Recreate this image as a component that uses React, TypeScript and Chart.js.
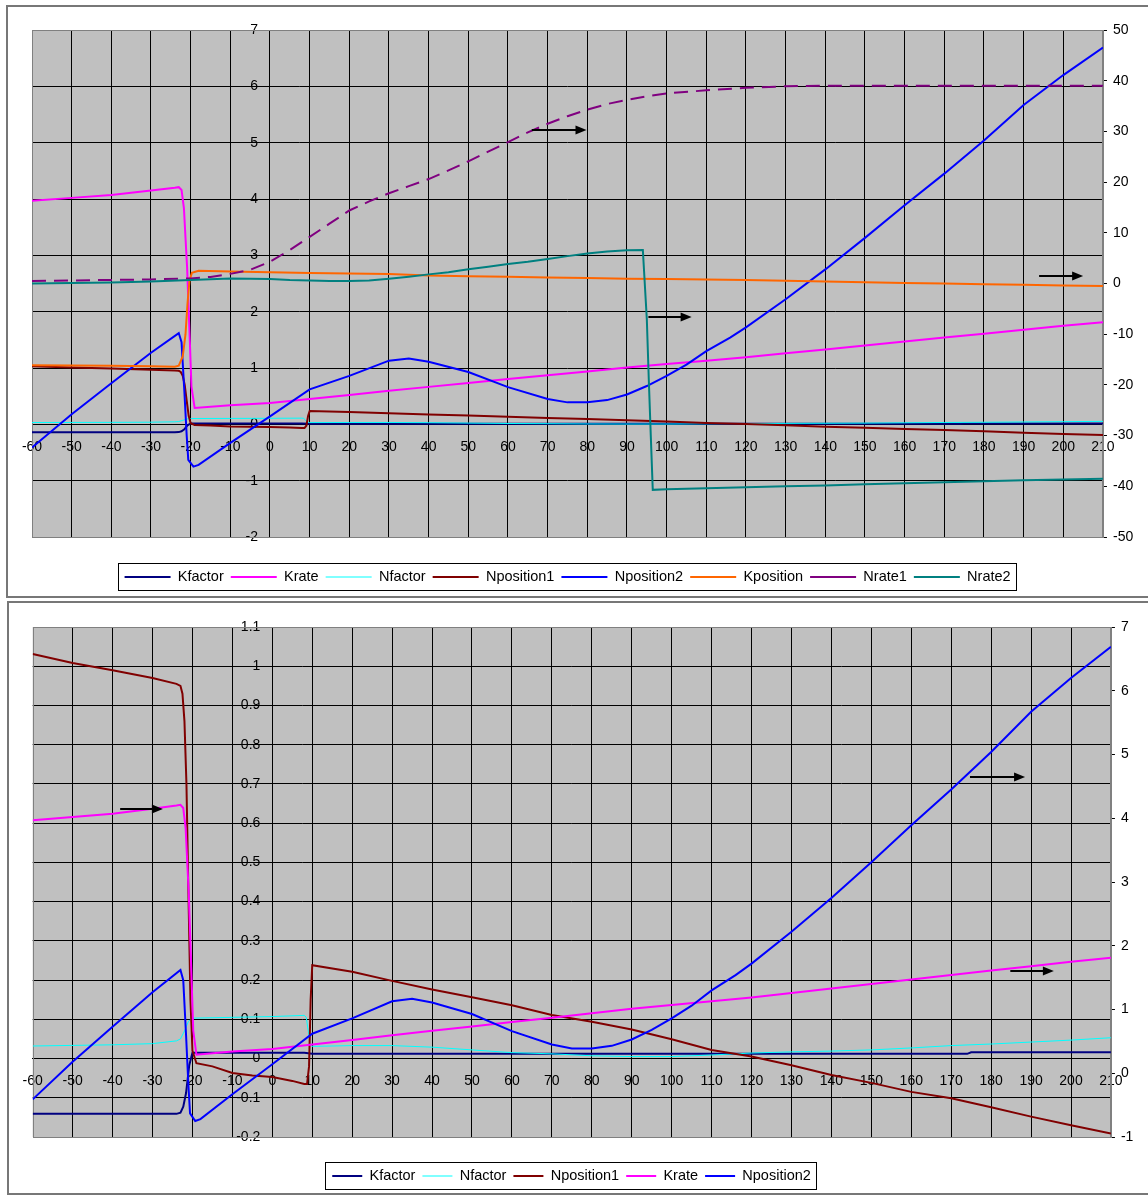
import React, { useEffect, useRef } from 'react';
import { Chart, registerables, LinearScale } from 'chart.js';

Chart.register(...registerables);
Chart.defaults.font.family = '"Liberation Sans", Arial, sans-serif';

// ---------------- data ----------------
const xTicksMin = -60;
const xTicksMax = 210;

const kfactorX = [-60, -24, -23, -22.3, -21.6, -20.8, -20, -10, 0, 8, 10, 60, 110, 174, 175, 210];
const kfactorY = [-0.141, -0.141, -0.138, -0.123, -0.088, -0.017, 0.015, 0.015, 0.015, 0.015, 0.012, 0.012, 0.012, 0.012, 0.016, 0.016];

const nfactorX = [-60, -40, -30, -24, -23, -22, -21, -20, -10, 0, 8, 8.5, 9, 9.5, 10, 20, 30, 40, 50, 60, 70, 80, 90, 100, 110, 120, 130, 140, 150, 160, 170, 180, 190, 200, 210];
const nfactorY = [0.032, 0.035, 0.038, 0.045, 0.05, 0.07, 0.095, 0.103, 0.105, 0.107, 0.11, 0.105, 0.07, 0.035, 0.031, 0.033, 0.033, 0.029, 0.022, 0.015, 0.012, 0.007, 0.005, 0.005, 0.009, 0.014, 0.017, 0.019, 0.022, 0.027, 0.033, 0.037, 0.042, 0.047, 0.053];

const nposition1X = [-60, -50, -40, -30, -24, -23, -22.5, -22, -21.5, -21, -20.5, -20, -19, -15, -10, -5, 0, 5, 8, 8.7, 9.2, 9.6, 10, 20, 30, 40, 50, 60, 70, 80, 90, 100, 110, 120, 130, 140, 150, 160, 170, 180, 190, 200, 210];
const nposition1Y = [1.031, 1.008, 0.99, 0.97, 0.955, 0.95, 0.93, 0.86, 0.7, 0.42, 0.15, 0.02, -0.012, -0.02, -0.037, -0.043, -0.047, -0.057, -0.065, -0.065, -0.02, 0.15, 0.238, 0.221, 0.198, 0.176, 0.156, 0.136, 0.111, 0.094, 0.074, 0.049, 0.022, 0.005, -0.017, -0.042, -0.062, -0.085, -0.101, -0.124, -0.148, -0.17, -0.191];

const krateX = [-60, -50, -40, -30, -24, -23, -22.3, -21.7, -21.3, -20.9, -20.2, -19.8, -19, -10, 0, 10, 20, 30, 40, 50, 60, 70, 80, 90, 100, 110, 120, 130, 140, 150, 160, 170, 180, 190, 200, 210];
const krateY = [3.97, 4.02, 4.07, 4.15, 4.2, 4.21, 4.16, 3.84, 3.31, 2.79, 1.46, 0.67, 0.29, 0.34, 0.38, 0.45, 0.52, 0.595, 0.665, 0.735, 0.805, 0.87, 0.94, 1.01, 1.07, 1.13, 1.19, 1.26, 1.33, 1.4, 1.47, 1.54, 1.61, 1.68, 1.75, 1.81];

const nposition2X = [-60, -50, -40, -30, -23, -22.3, -21.6, -21, -20.6, -19.3, -18, -10, 0, 10, 20, 30, 35, 40, 50, 60, 70, 75, 80, 85, 90, 95, 100, 105, 110, 116, 120, 130, 140, 150, 160, 170, 180, 190, 200, 210];
const nposition2Y = [-0.41, 0.18, 0.73, 1.27, 1.62, 1.46, 0.6, -0.2, -0.63, -0.75, -0.72, -0.33, 0.14, 0.62, 0.86, 1.13, 1.17, 1.11, 0.93, 0.66, 0.45, 0.39, 0.39, 0.43, 0.53, 0.68, 0.86, 1.06, 1.3, 1.54, 1.72, 2.22, 2.75, 3.31, 3.89, 4.45, 5.04, 5.67, 6.2, 6.69];

const kpositionX = [-60, -40, -30, -24, -23, -22, -21.3, -20.8, -20.3, -19.7, -18, -10, 0, 10, 20, 30, 40, 50, 60, 70, 80, 90, 100, 110, 120, 130, 140, 150, 160, 170, 180, 190, 200, 210];
const kpositionY = [-16.1, -16.2, -16.3, -16.4, -16.2, -14.4, -10, -4, 0.5, 2.1, 2.5, 2.35, 2.2, 2.05, 1.95, 1.85, 1.6, 1.45, 1.35, 1.2, 1.1, 0.95, 0.88, 0.8, 0.7, 0.55, 0.4, 0.23, 0.12, 0.0, -0.15, -0.27, -0.4, -0.5];

const nrate1X = [-60, -50, -40, -30, -20, -15, -10, -5, 0, 5, 10, 15, 20, 25, 30, 35, 40, 45, 50, 55, 60, 65, 70, 75, 80, 85, 90, 95, 100, 110, 120, 130, 140, 150, 160, 170, 180, 190, 200, 210];
const nrate1Y = [0.5, 0.6, 0.7, 0.8, 1.0, 1.3, 1.9, 2.7, 4.3, 6.6, 9.2, 11.8, 14.4, 16.2, 17.8, 19.2, 20.6, 22.3, 24.1, 26.0, 27.9, 29.8, 31.5, 33.0, 34.3, 35.4, 36.2, 36.9, 37.5, 38.1, 38.6, 38.9, 39.0, 39.0, 39.0, 39.0, 39.0, 39.0, 39.0, 39.0];

const nrate2X = [-60, -50, -40, -30, -20, -10, 0, 5, 10, 15, 20, 25, 30, 35, 40, 45, 50, 55, 60, 65, 70, 75, 80, 85, 90, 94, 95, 95.5, 96, 96.5, 100, 110, 120, 130, 140, 150, 160, 170, 180, 190, 200, 210];
const nrate2Y = [0.0, 0.1, 0.2, 0.4, 0.7, 1.0, 0.9, 0.7, 0.6, 0.5, 0.5, 0.6, 0.95, 1.35, 1.8, 2.2, 2.8, 3.3, 3.85, 4.3, 4.85, 5.4, 5.9, 6.3, 6.55, 6.6, -7, -19, -30, -40.7, -40.6, -40.4, -40.2, -40.0, -39.85, -39.6, -39.4, -39.2, -39.0, -38.8, -38.65, -38.5];

// annotation arrows (x start, x end, y on left axis)
const topArrowX1 = [66.0, 95.4, 193.9];
const topArrowX2 = [79.8, 106.3, 205.0];
const topArrowY = [5.22, 1.91, 2.64];
const bottomArrowX1 = [-38.1, 174.7, 184.8];
const bottomArrowX2 = [-27.4, 188.5, 195.7];
const bottomArrowY = [0.635, 0.718, 0.224];

// ---------------- helpers ----------------
const LABEL_GAP = 12;

class CrossingLinearScale extends LinearScale {
  static id = 'crossingLinear';
  _computeLabelItems(chartArea: any) {
    // @ts-ignore
    const items = super._computeLabelItems(chartArea);
    for (const it of items) {
      const t = it.options && it.options.translation;
      if (Array.isArray(t)) t[0] -= LABEL_GAP;
    }
    return items;
  }
}
Chart.register(CrossingLinearScale);

const pts = (xs: number[], ys: number[]) => xs.map((x, i) => ({ x, y: ys[i] }));

const ds = (label: string, xs: number[], ys: number[], color: string, width: number, axis: string, order: number, dash?: number[]) => ({
  label,
  data: pts(xs, ys),
  borderColor: color,
  backgroundColor: color,
  borderWidth: width,
  borderDash: dash || [],
  pointRadius: 0,
  pointHoverRadius: 0,
  tension: 0,
  fill: false,
  yAxisID: axis,
  order,
});

const edgeColor = (c: any) => {
  if (!c.tick) return '#000';
  const v = c.tick.value;
  if (Math.abs(v - c.scale.min) < 1e-9 || Math.abs(v - c.scale.max) < 1e-9) return 'rgba(0,0,0,0)';
  return '#000';
};

const makeChrome = (shift: number, legendTitleH: number, x1: number[], x2: number[], ay: number[]) => ({
  id: 'chrome',
  afterLayout(chart: any) {
    const lg = chart.legend;
    if (lg) {
      lg.left += shift;
      lg.right += shift;
    }
  },
  beforeDraw(chart: any) {
    const { ctx, chartArea: a } = chart;
    ctx.save();
    ctx.fillStyle = '#c0c0c0';
    ctx.fillRect(a.left, a.top, a.right - a.left, a.bottom - a.top);
    const lg = chart.legend;
    if (lg && lg.lineWidths) {
      const pad = lg.options.labels.padding;
      const fs = lg.options.labels.font.size;
      const lw = lg.lineWidths[0];
      const x0 = (lg.left + pad + lg.right - lw) / 2;
      const yc = lg.top + pad + legendTitleH + fs / 2;
      const l = Math.round(x0 - 7) + 0.5;
      const r = Math.round(x0 + lw - pad + 5) + 0.5;
      const t = Math.round(yc - 14) + 0.5;
      const b = Math.round(yc + 13) + 0.5;
      ctx.fillStyle = '#fff';
      ctx.fillRect(l, t, r - l, b - t);
      ctx.strokeStyle = '#000';
      ctx.lineWidth = 1;
      ctx.strokeRect(l, t, r - l, b - t);
    }
    ctx.restore();
  },
  beforeDatasetsDraw(chart: any) {
    const { ctx, chartArea: a } = chart;
    ctx.save();
    ctx.strokeStyle = '#808080';
    ctx.lineWidth = 1;
    ctx.strokeRect(Math.round(a.left) + 0.5, Math.round(a.top) + 0.5, Math.round(a.right - a.left), Math.round(a.bottom - a.top));
    ctx.restore();
  },
  afterDatasetsDraw(chart: any) {
    const { ctx } = chart;
    const xs = chart.scales.x;
    const ys = chart.scales.y;
    ctx.save();
    ctx.strokeStyle = '#000';
    ctx.fillStyle = '#000';
    ctx.lineWidth = 2;
    x1.forEach((v, i) => {
      const a = xs.getPixelForValue(v);
      const b = xs.getPixelForValue(x2[i]);
      const y = Math.round(ys.getPixelForValue(ay[i]));
      ctx.beginPath();
      ctx.moveTo(a, y);
      ctx.lineTo(b - 8, y);
      ctx.stroke();
      ctx.beginPath();
      ctx.moveTo(b, y);
      ctx.lineTo(b - 11, y - 4.5);
      ctx.lineTo(b - 11, y + 4.5);
      ctx.closePath();
      ctx.fill();
    });
    ctx.restore();
  },
});

const tickFont = { size: 14 };
const legendFont = { size: 14.5 };

const legendOpts = (titlePadTop: number, sampleWidth: number) => ({
  display: true,
  position: 'bottom',
  align: 'center',
  title: { display: true, text: '', font: { size: 10 }, padding: { top: titlePadTop, bottom: 0 } },
  labels: {
    usePointStyle: true,
    pointStyle: 'line',
    pointStyleWidth: sampleWidth,
    padding: 7,
    color: '#000',
    font: legendFont,
    sort: (a: any, b: any) => a.datasetIndex - b.datasetIndex,
  },
});

const xScale = () => ({
  type: 'linear',
  position: { y: 0 },
  min: xTicksMin,
  max: xTicksMax,
  ticks: { stepSize: 10, autoSkip: false, maxRotation: 0, padding: 14, color: '#000', font: tickFont },
  grid: { color: edgeColor, drawTicks: false, lineWidth: 1 },
  border: { color: '#000', width: 1 },
});

function buildTop() {
  const titleH = 25.75;
  return {
    type: 'line',
    data: {
      datasets: [
        ds('Kfactor', kfactorX, kfactorY, '#000080', 2, 'y', 8),
        ds('Krate', krateX, krateY, '#ff00ff', 2, 'y', 7),
        ds('Nfactor', nfactorX, nfactorY, '#00ffff', 1, 'y', 6),
        ds('Nposition1', nposition1X, nposition1Y, '#800000', 2, 'y', 5),
        ds('Nposition2', nposition2X, nposition2Y, '#0000ff', 2, 'y', 4),
        ds('Kposition', kpositionX, kpositionY, '#ff6600', 2, 'y2', 3),
        ds('Nrate1', nrate1X, nrate1Y, '#800080', 2, 'y2', 2, [14, 8]),
        ds('Nrate2', nrate2X, nrate2Y, '#008080', 2, 'y2', 1),
      ],
    },
    options: {
      responsive: false,
      animation: false,
      events: [],
      layout: { padding: { left: 32, top: 30, right: 8.8, bottom: 2.75 } },
      scales: {
        x: xScale(),
        y: {
          type: 'crossingLinear',
          axis: 'y',
          position: { x: 0 },
          min: -2,
          max: 7,
          ticks: { stepSize: 1, color: '#000', font: tickFont },
          grid: { color: edgeColor, tickColor: '#000', tickLength: 5 },
          border: { color: '#000' },
        },
        y2: {
          type: 'linear',
          position: 'right',
          min: -50,
          max: 50,
          ticks: { stepSize: 10, padding: 6, color: '#000', font: tickFont },
          grid: { drawOnChartArea: false, tickLength: 4, color: '#000' },
          border: { color: '#808080' },
        },
      },
      plugins: {
        legend: legendOpts(titleH - 12, 46),
        tooltip: { enabled: false },
      },
    },
    plugins: [makeChrome(-18, titleH, topArrowX1, topArrowX2, topArrowY)],
  };
}

function buildBottom() {
  const titleH = 24.75;
  return {
    type: 'line',
    data: {
      datasets: [
        ds('Kfactor', kfactorX, kfactorY, '#000080', 2, 'y', 5),
        ds('Nfactor', nfactorX, nfactorY, '#00ffff', 1, 'y', 4),
        ds('Nposition1', nposition1X, nposition1Y, '#800000', 2, 'y', 3),
        ds('Krate', krateX, krateY, '#ff00ff', 2, 'y2', 2),
        ds('Nposition2', nposition2X, nposition2Y, '#0000ff', 2, 'y2', 1),
      ],
    },
    options: {
      responsive: false,
      animation: false,
      events: [],
      layout: { padding: { left: 32.7, top: 30, right: 8.6, bottom: 1.75 } },
      scales: {
        x: xScale(),
        y: {
          type: 'crossingLinear',
          axis: 'y',
          position: { x: 0 },
          min: -0.2,
          max: 1.1,
          ticks: {
            stepSize: 0.1,
            color: '#000',
            font: tickFont,
            callback: (v: number) => String(Math.round(v * 10) / 10),
          },
          grid: { color: edgeColor, tickColor: '#000', tickLength: 5 },
          border: { color: '#000' },
        },
        y2: {
          type: 'linear',
          position: 'right',
          min: -1,
          max: 7,
          ticks: { stepSize: 1, padding: 6, color: '#000', font: tickFont },
          grid: { drawOnChartArea: false, tickLength: 4, color: '#000' },
          border: { color: '#808080' },
        },
      },
      plugins: {
        legend: legendOpts(titleH - 12, 30),
        tooltip: { enabled: false },
      },
    },
    plugins: [makeChrome(-14.5, titleH, bottomArrowX1, bottomArrowX2, bottomArrowY)],
  };
}

function ChartCanvas({ build, top, height }: { build: () => any; top: number; height: number }) {
  const ref = useRef<HTMLCanvasElement | null>(null);
  useEffect(() => {
    if (!ref.current) return;
    const chart = new Chart(ref.current, build());
    return () => chart.destroy();
  }, [build]);
  return (
    <canvas
      ref={ref}
      width={1148}
      height={height}
      style={{ position: 'absolute', left: 0, top, width: 1148, height, display: 'block' }}
    />
  );
}

export default function App() {
  return (
    <div style={{ position: 'absolute', left: 0, top: 0, width: 1148, height: 1195, background: '#fff', overflow: 'hidden' }}>
      <div style={{ position: 'absolute', left: 6, top: 5, width: 1160, height: 589, border: '2px solid #777' }} />
      <div style={{ position: 'absolute', left: 7, top: 601, width: 1160, height: 590, border: '2px solid #777' }} />
      <ChartCanvas build={buildTop} top={0} height={597} />
      <ChartCanvas build={buildBottom} top={597} height={598} />
    </div>
  );
}
